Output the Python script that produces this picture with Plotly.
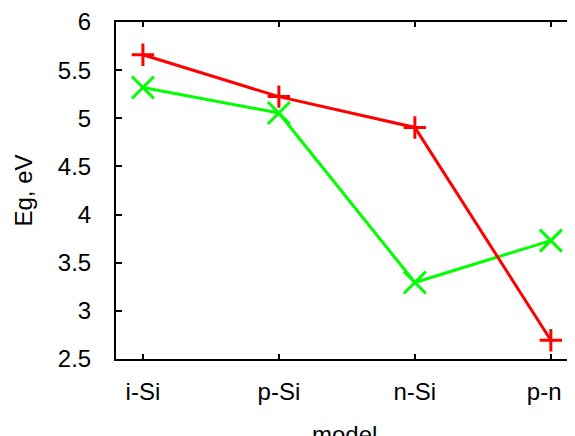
import plotly.graph_objects as go

categories = ["i-Si", "p-Si", "n-Si", "p-n"]
tick_labels = ["i-Si", "p-Si", "n-Si", "p-n\u00a0\u00a0"]
red_values = [5.66, 5.225, 4.905, 2.695]
green_values = [5.32, 5.055, 3.295, 3.73]
y_ticks = [2.5, 3, 3.5, 4, 4.5, 5, 5.5, 6]
y_tick_labels = ["2.5", "3", "3.5", "4", "4.5", "5", "5.5", "6"]

xpos = list(range(len(categories)))
FONT = "Liberation Sans, Arial, Helvetica, sans-serif"

fig = go.Figure()
fig.add_trace(go.Scatter(
    x=xpos, y=green_values, mode="lines+markers",
    line=dict(color="#00ff00", width=3),
    marker=dict(symbol="x-thin", size=22, line=dict(color="#00ff00", width=3)),
    showlegend=False, cliponaxis=False,
))
fig.add_trace(go.Scatter(
    x=xpos, y=red_values, mode="lines+markers",
    line=dict(color="#ff0000", width=3),
    marker=dict(symbol="cross-thin", size=16, line=dict(color="#ff0000", width=3)),
    showlegend=False, cliponaxis=False,
))
# invisible trace to host the right-side mirrored ticks
fig.add_trace(go.Scatter(x=[None], y=[None], yaxis="y2", showlegend=False, hoverinfo="skip"))

# page body has an 8px default margin, so the figure starts at (8, 8)
fig.update_layout(
    width=567, height=428,
    margin=dict(l=108, r=0, t=11, b=77),
    paper_bgcolor="white", plot_bgcolor="white",
    font=dict(family=FONT, size=24, color="black"),
    xaxis=dict(
        range=[-0.198, 3.163], tickmode="array", tickvals=xpos, ticktext=tick_labels,
        ticks="inside", ticklen=5, tickwidth=1.5, tickcolor="black",
        showline=True, linecolor="black", linewidth=2, mirror="ticks",
        showgrid=False, zeroline=False, ticklabelstandoff=10,
        ticklabeloverflow="allow",
    ),
    yaxis=dict(
        range=[2.5, 6], tickmode="array", tickvals=y_ticks, ticktext=y_tick_labels,
        ticks="inside", ticklen=6, tickwidth=1.5, tickcolor="black",
        showline=True, linecolor="black", linewidth=2,
        showgrid=False, zeroline=False, ticklabelstandoff=18,
        ticklabeloverflow="allow",
    ),
    yaxis2=dict(
        overlaying="y", side="right", range=[2.5, 6], tickmode="array", tickvals=y_ticks,
        ticks="inside", ticklen=5, tickwidth=1.5, tickcolor="black",
        showticklabels=False, showline=False, showgrid=False, zeroline=False,
    ),
    annotations=[
        dict(text="Eg, eV", xref="paper", yref="paper", x=0, y=0.5, xanchor="center",
             yanchor="middle", xshift=-93, textangle=-90, showarrow=False,
             font=dict(family=FONT, size=24, color="black")),
        dict(text="model", xref="paper", yref="paper", x=0.5, y=0, xanchor="center",
             yanchor="middle", yshift=-75, showarrow=False,
             font=dict(family=FONT, size=24, color="black")),
    ],
)

fig.write_html("out.html")
